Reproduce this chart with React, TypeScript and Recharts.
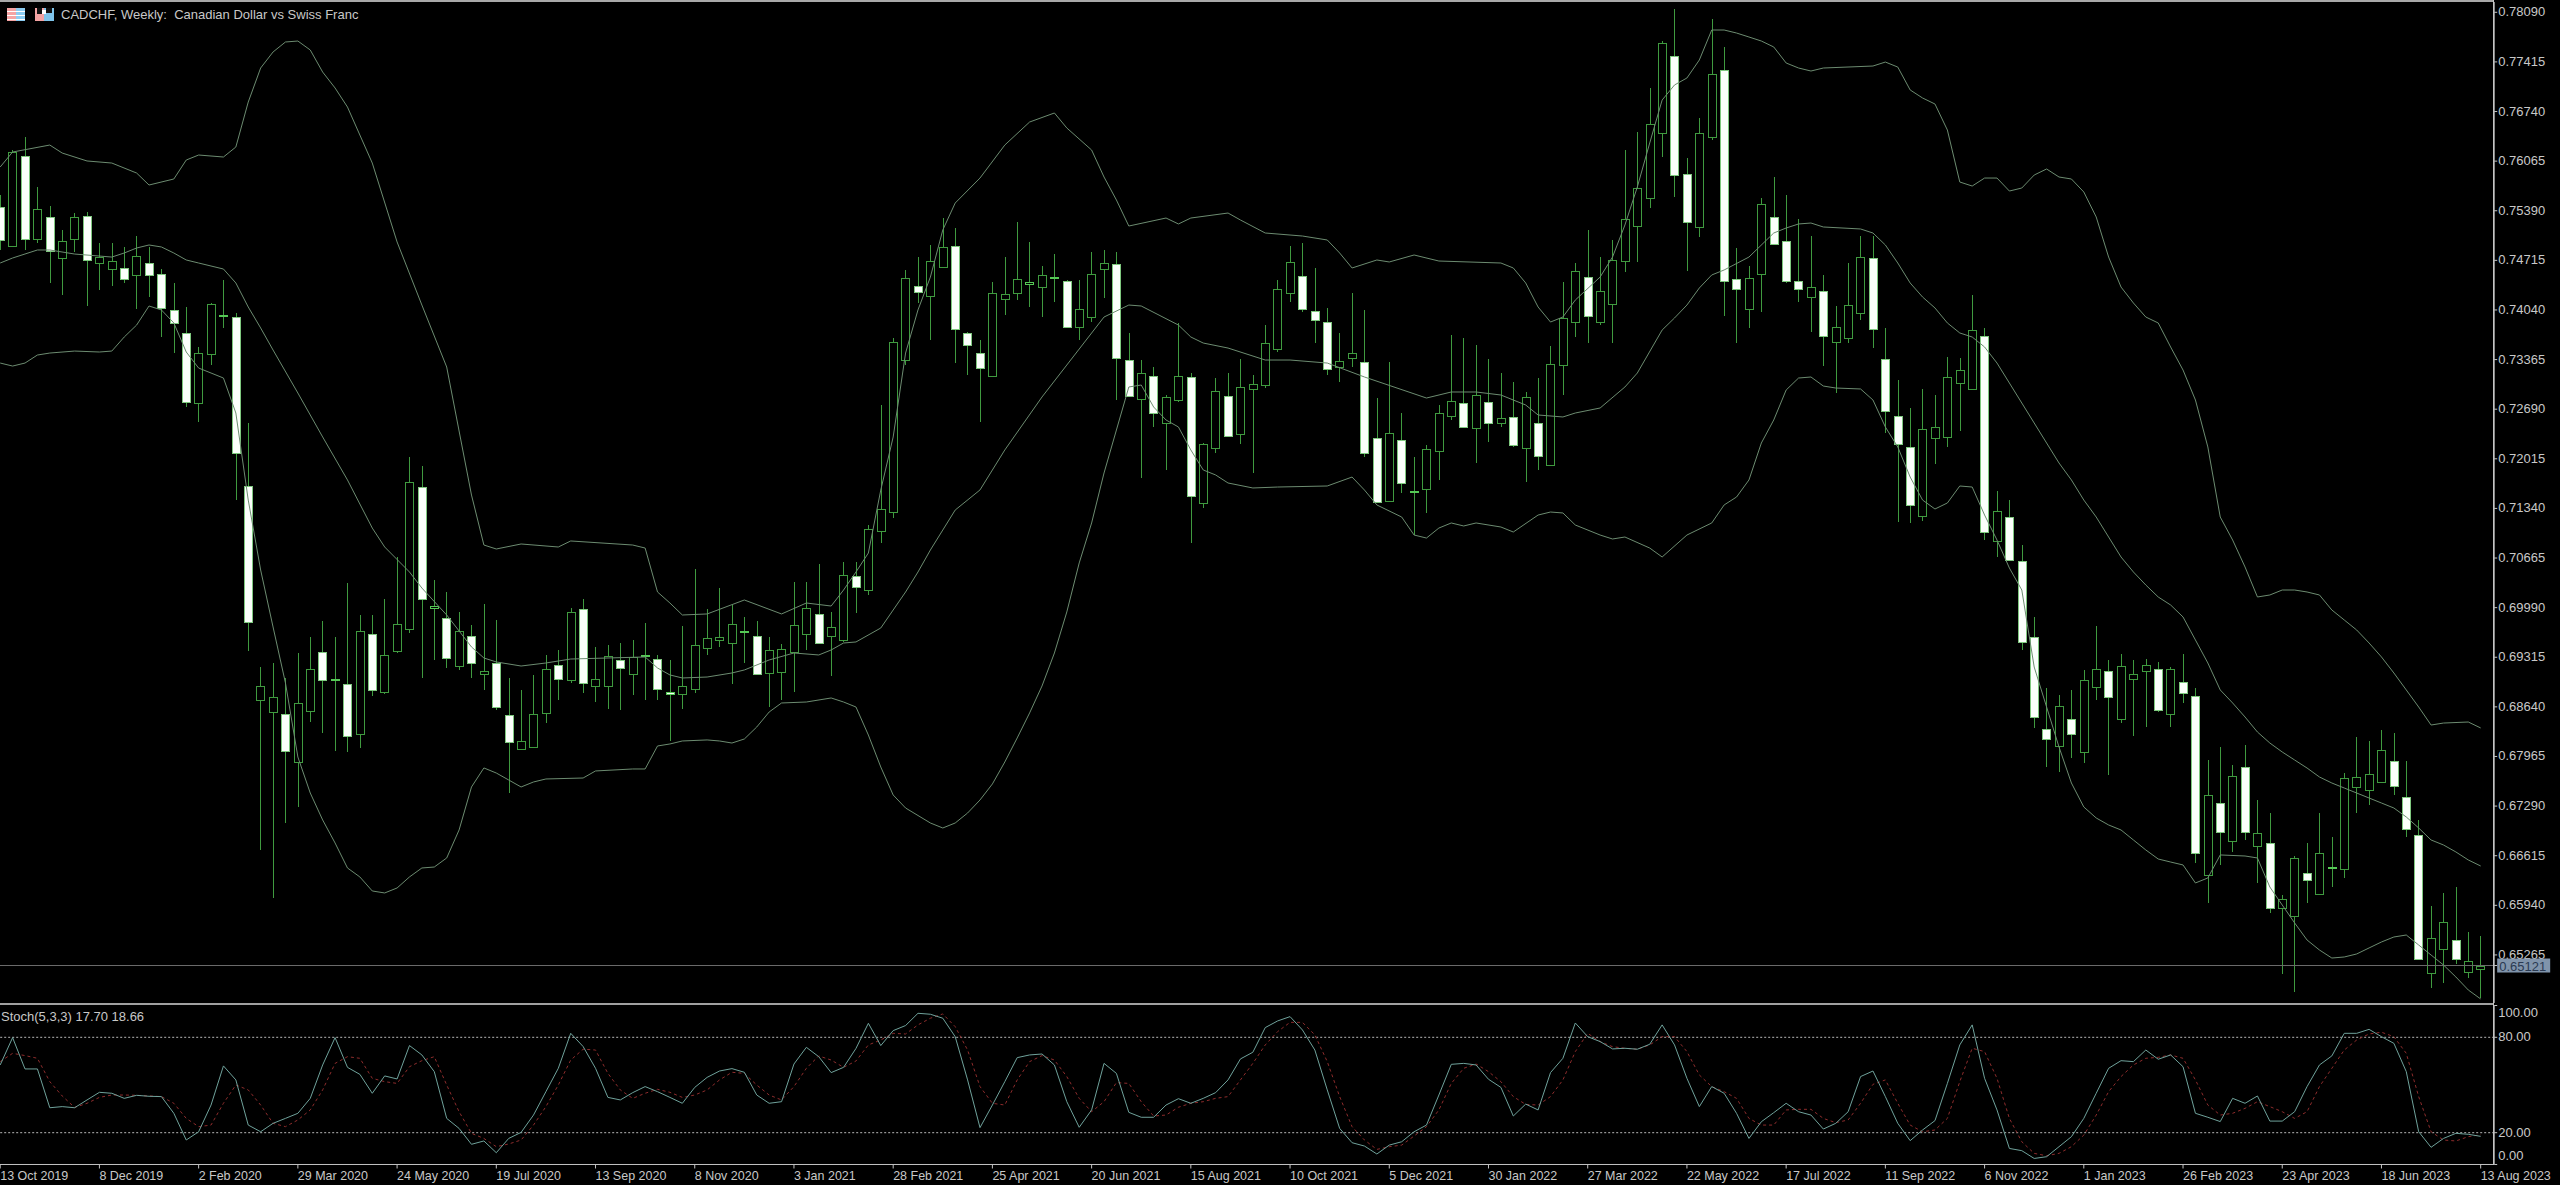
import React from 'react';
import { ComposedChart, Bar, Line, XAxis, YAxis, ReferenceLine } from 'recharts';

// prices are in points (1/100000)
const opens = [
  75441,74910,76135,75005,75305,74747,75005,75318,74679,74597,
  74611,74516,74679,74529,74040,73727,72774,73441,73958,73944,
  71645,68733,68570,68543,67890,68584,69387,69006,68951,68271,
  69632,68842,69400,69700,71631,69985,69849,69196,69604,69087,
  69237,68529,68067,68094,68557,69210,69006,69971,68924,68924,
  69278,69087,69332,69291,68842,68815,68883,69441,69550,69509,
  69659,69604,69101,69114,69387,69632,69904,69604,69550,70421,
  70230,71033,71291,73359,74366,74230,74624,74910,73727,73454,
  73142,74189,74271,74393,74352,74475,74434,73808,73944,74597,
  74665,73359,72829,73142,72502,72815,73128,71414,72162,72869,
  72352,72965,73019,73509,74271,74502,74026,73876,73264,73386,
  73332,72298,71441,72271,71563,71604,72121,72597,72774,72434,
  72788,72502,72584,72162,72502,71931,73291,73876,74488,73876,
  74121,74706,75182,75563,76448,77495,75890,75169,76393,77305,
  74461,74053,74529,75305,74978,74434,74216,74298,73604,73658,
  73999,74747,73373,72597,72176,71237,72298,72312,73046,72965,
  73686,70897,71223,70625,69591,68339,68108,68475,68026,68910,
  69128,68475,69019,69128,69155,68543,68978,68788,66353,67332,
  66815,67822,66747,66788,65904,65795,66380,66094,66448,66434,
  67550,67509,67618,67903,67414,66897,65019,65346,65468,65033,
  65074,
];
const highs = [
  75604,76216,76393,75713,75454,75128,75359,75373,74951,74951,
  74897,75046,74897,74597,74407,74080,73536,74135,74448,73999,
  72502,69182,69237,69033,69373,69591,69808,69591,70325,69890,
  69890,70108,70679,72040,71917,70366,70203,69931,69754,70040,
  69822,69033,68870,69074,69346,69414,69985,70108,69455,69482,
  69509,69550,69781,69346,69278,69740,70516,69971,70257,70026,
  69863,69808,69591,69495,70339,70339,70584,69931,70611,70611,
  71114,72747,73658,74584,74760,74924,75291,75155,73740,73631,
  74420,74760,75237,74965,74638,74801,74448,74448,74829,74856,
  74829,73727,73359,73264,72883,73863,73182,72230,73114,73182,
  73373,73155,73835,74448,74910,74951,74611,74067,73727,74271,
  74040,72842,73332,72638,72040,72203,72747,73699,73658,73563,
  73373,73182,73060,72924,73114,73550,74420,74679,75128,74760,
  74992,76216,76461,77060,77700,78135,76107,76652,77998,77618,
  74883,74638,75563,75849,75604,75277,75046,74516,74094,74679,
  75046,75046,73795,73087,72706,72965,72883,73400,73386,74243,
  73795,71577,71454,70842,69863,68897,68802,68870,69142,69740,
  69278,69359,69278,69291,69251,69182,69359,68897,67917,68094,
  67849,68121,67373,67196,66080,66611,66788,67196,66870,67740,
  68230,68176,68325,68285,67903,67101,65931,66108,66189,65577,
  65523,
];
const lows = [
  74856,74900,74856,74951,74407,74243,74829,74094,74312,74366,
  74407,74053,74216,73672,73454,72720,72516,73291,73795,71454,
  69400,66693,66040,67060,67278,68434,68285,68040,68026,68080,
  68788,68815,69373,69645,69033,69278,69169,69142,69033,68870,
  68597,67468,68053,68080,68420,68733,68965,68829,68706,68611,
  68597,68802,68733,68733,68176,68611,68829,69346,69455,68951,
  69237,69074,68638,68733,68842,69414,69495,69060,69523,69917,
  70162,70869,71210,73291,74135,73631,74611,73318,73155,72516,
  73128,73971,74175,74080,73944,74148,73795,73631,73876,74203,
  72815,72856,71754,72448,71863,72788,70869,71346,72094,72312,
  72216,71822,72978,73468,74148,74012,73590,73155,73060,73264,
  72040,71414,71427,71550,70978,71278,71727,72543,72434,71958,
  72244,72448,72176,71699,71863,71917,72883,73672,73590,73835,
  73590,74556,74693,75427,76121,75577,74570,75033,76352,73958,
  73590,73795,74012,74924,74407,74148,73740,73277,72910,73590,
  73903,73522,72366,71155,71142,71169,71944,72176,72393,72951,
  70910,70679,70625,69414,68353,67822,67754,67945,67876,68733,
  67713,68420,68244,68366,68570,68366,68693,66516,65971,66489,
  66665,66829,66244,65836,65006,64761,65971,66080,66189,66312,
  67196,67305,67604,67441,66870,65196,64815,64883,65142,64951,
  64679,
];
const closes = [
  74992,76189,75005,75414,74842,74978,75305,74720,74760,74706,
  74461,74774,74516,74067,73863,72788,73454,74121,73971,72094,
  69795,68924,68774,68040,68693,69155,69006,69019,68244,69672,
  68870,69346,69767,71699,70108,70012,69305,69672,69237,69128,
  68638,68162,68176,68543,69155,69019,69931,68965,69019,69332,
  69169,69319,69346,68883,68815,68924,69482,69577,69591,69767,
  69672,69087,69414,69427,69754,69985,69509,69727,70434,70271,
  71060,71332,73604,74475,74284,74706,74897,73781,73563,73250,
  74271,74257,74461,74420,74516,74488,73808,74053,74529,74679,
  73386,72869,73182,72638,72856,73142,71509,72216,72937,72325,
  72992,73033,73590,74325,74693,74053,73903,73237,73346,73454,
  72094,71427,72366,71686,71577,72148,72638,72801,72448,72883,
  72502,72570,72203,72856,72053,73305,73931,74570,73958,74298,
  74720,75277,75699,76570,77672,75876,75237,76448,77250,74434,
  74325,74475,75482,74937,74434,74325,74352,73686,73808,74107,
  74760,73781,72665,72216,71387,72420,72448,73128,73223,73767,
  71019,71305,70638,69523,68502,68203,68652,68271,69006,69155,
  68774,69196,69087,69210,68597,69155,68829,66652,67441,66938,
  67700,66938,66924,65904,66026,66584,66285,66652,66461,67672,
  67686,67727,68053,67563,66978,65210,65496,65713,65210,65183,
  65121,
];

// Bollinger bands, read at the bars where the curve can be seen clearly: [bar, price]
const upperBand = [
  [0,75985],[1,76189],[4,76284],[5,76175],[7,76067],[9,76039],[11,75903],[12,75740],[14,75822],[15,76080],[16,76148],[18,76121],[19,76257],
  [20,76869],[21,77332],[22,77550],[23,77686],[24,77699],[25,77577],[26,77277],[27,77060],[28,76801],[30,76039],[32,74965],[34,74107],[36,73264],[38,71522],
  [39,70842],[40,70788],[42,70856],[45,70815],[46,70897],[51,70842],[52,70801],[53,70203],[54,70053],[55,69890],[57,69904],[60,70094],[63,69904],[65,70053],[67,70012],
  [68,70230],[69,70475],[70,70733],[71,71590],[72,72312],[73,73454],[74,74040],[75,74488],[76,75128],[77,75495],[79,75835],[81,76284],[83,76597],[85,76720],[86,76516],
  [88,76216],[89,75849],[90,75536],[91,75182],[94,75291],[95,75210],[96,75291],[99,75359],[100,75264],[102,75087],[105,75046],[107,74992],[108,74815],[109,74611],
  [111,74720],[112,74693],[114,74788],[116,74706],[121,74679],[122,74611],[123,74407],[124,74080],[125,73876],[126,73944],[127,74175],[129,74488],[130,74760],
  [131,75196],[132,75713],[133,76312],[134,76896],[135,77101],[136,77196],[137,77441],[138,77849],[139,77849],[140,77808],[141,77754],[142,77699],[143,77618],
  [144,77400],[145,77332],[146,77291],[147,77332],[151,77359],[152,77413],[153,77345],[154,77033],[155,76924],[156,76842],[157,76488],[158,75781],[159,75726],
  [160,75835],[161,75835],[162,75658],[163,75699],[164,75876],[165,75958],[166,75849],[167,75822],[168,75645],[169,75305],[170,74760],[171,74352],[172,74135],
  [173,73944],[174,73863],[175,73536],[176,73223],[177,72815],[178,72176],[179,71223],[180,70910],[181,70543],[182,70135],[183,70162],[184,70230],[185,70230],
  [186,70203],[187,70162],[188,69958],[189,69822],[190,69686],[191,69509],[192,69319],[193,69101],[194,68870],[195,68638],[196,68393],[197,68420],[199,68434],[200,68353],
];
const middleBand = [
  [0,74679],[1,74747],[3,74856],[4,74856],[6,74801],[9,74760],[10,74815],[11,74883],[12,74924],[13,74897],[14,74815],[15,74720],[16,74679],[18,74597],[19,74407],
  [20,74080],[21,73795],[22,73495],[24,72910],[26,72312],[28,71727],[30,71073],[31,70815],[33,70475],[34,70257],[36,69890],[38,69455],[39,69305],[40,69251],[42,69196],
  [44,69237],[46,69291],[52,69319],[53,69169],[54,69074],[55,69033],[57,69046],[59,69101],[60,69142],[62,69278],[64,69373],[66,69346],[67,69414],[68,69509],[69,69523],
  [71,69713],[72,69958],[73,70203],[74,70475],[75,70774],[76,71046],[77,71318],[79,71591],[81,72135],[84,72856],[86,73291],[89,73944],[91,74107],[92,74094],[95,73835],
  [96,73672],[97,73590],[99,73522],[102,73359],[104,73359],[107,73318],[110,73128],[115,72842],[117,72924],[119,72924],[121,72883],[123,72747],[124,72611],[126,72584],
  [127,72638],[129,72706],[131,72992],[132,73182],[134,73767],[135,73931],[136,74107],[137,74339],[138,74516],[139,74584],[141,74760],[143,75087],[144,75155],[145,75210],
  [146,75223],[147,75169],[150,75142],[151,75087],[152,74924],[153,74679],[154,74407],[155,74216],[156,74067],[157,73863],[158,73727],[159,73672],[160,73536],[161,73318],
  [162,73046],[163,72774],[164,72502],[165,72230],[166,71958],[167,71727],[168,71454],[169,71223],[170,70951],[171,70679],[172,70475],[173,70298],[174,70135],[175,70026],
  [176,69863],[177,69550],[178,69237],[179,68870],[180,68693],[181,68502],[182,68298],[183,68148],[184,68026],[185,67917],[186,67808],[187,67686],[188,67604],[189,67536],
  [190,67468],[191,67400],[192,67332],[193,67264],[194,67142],[195,66992],[196,66829],[197,66761],[198,66666],[199,66557],[200,66475],
];
const lowerBand = [
  [0,73318],[1,73277],[2,73318],[3,73427],[4,73454],[6,73481],[8,73468],[9,73481],[10,73672],[11,73835],[12,74094],[13,74040],[14,73863],[15,73468],[16,73250],[17,73182],
  [18,73114],[19,72638],[20,71454],[21,70502],[22,69727],[23,68965],[24,67958],[25,67468],[26,67101],[27,66788],[28,66448],[29,66326],[30,66135],[31,66108],[32,66176],
  [33,66326],[34,66448],[35,66461],[36,66584],[37,66965],[38,67550],[39,67809],[40,67740],[41,67645],[42,67550],[43,67618],[44,67659],[47,67672],[48,67768],[51,67795],
  [52,67795],[53,68108],[54,68135],[55,68176],[57,68190],[58,68176],[59,68148],[60,68203],[61,68366],[62,68570],[63,68693],[65,68706],[67,68761],[68,68706],[69,68638],
  [70,68257],[71,67822],[72,67441],[73,67264],[75,67060],[76,66992],[77,67060],[78,67196],[79,67373],[80,67591],[81,67890],[82,68217],[83,68557],[84,68924],[85,69373],
  [86,69931],[87,70598],[88,71142],[89,71822],[90,72407],[91,72992],[92,73019],[93,72720],[94,72543],[95,72448],[96,72135],[97,71863],[98,71795],[99,71686],[101,71618],
  [103,71631],[107,71645],[109,71767],[110,71590],[111,71387],[113,71223],[114,70978],[115,70937],[116,71073],[117,71142],[118,71101],[119,71142],[121,71087],[122,71019],
  [124,71250],[125,71291],[126,71278],[127,71114],[129,70978],[130,70924],[131,70951],[133,70801],[134,70679],[136,70978],[138,71142],[139,71387],[140,71495],[141,71727],
  [142,72230],[143,72543],[144,72951],[145,73114],[146,73128],[147,73005],[148,72978],[150,72965],[151,72815],[152,72448],[153,72176],[154,71767],[155,71454],[156,71332],
  [157,71414],[158,71645],[159,71631],[160,71250],[161,70910],[162,70529],[163,70230],[164,69182],[165,68638],[166,68094],[167,67604],[168,67278],[169,67128],[170,67033],
  [171,66965],[172,66829],[173,66693],[174,66570],[175,66529],[176,66489],[177,66244],[178,66312],[179,66625],[181,66611],[182,66584],[183,66189],[184,65944],[185,65700],
  [186,65468],[187,65332],[188,65223],[189,65237],[190,65278],[191,65360],[192,65441],[193,65509],[194,65536],[195,65400],[196,65264],[197,65128],[198,64965],[199,64788],[200,64666],
];

const stochMain = [
  62.6,79.8,60.1,60.1,35.7,36.4,35.7,40.6,45.4,44.8,
  41.6,43.5,42.9,42.7,32.2,15.4,20.6,37.4,62,53.2,
  24.8,20.6,25.9,29,32.2,41.6,62.6,79.8,61.1,56.7,
  44.8,55.7,53.8,74.8,68.9,58.4,29,22.7,12.7,14.8,
  7.4,16.4,20.2,31.1,45.8,60.5,82.5,74.2,60.5,42.2,
  40.6,45.2,49,45.8,42.2,38.5,48.5,54.8,58.8,60.3,
  58,43.7,38.5,39.5,63.2,73.7,67.8,57.8,61.1,73,
  88.8,74.8,84.2,87.4,95.1,94.5,92,80.4,53.2,23.2,
  37.4,52.1,67.2,68.9,69.5,62.6,39.5,23.4,34.3,63.6,
  57.3,32.8,29.7,29.7,37.4,41.4,38.5,41.6,45.2,53.2,
  66.4,70.6,86.1,90.3,93,84.6,72,46.9,22.7,13.7,
  11.6,6.6,12.2,14.3,20.6,24.8,43.7,63,63.6,62.6,
  53.6,48.5,30.5,38,34.3,57.8,66.8,89,80.4,77.3,
  72.7,73.1,72.5,75.6,87.8,75.2,54.2,36.4,49,44.8,
  32.2,16.4,26.9,32.6,38.5,33.2,31.1,22.3,25.9,33.2,
  55.3,58.8,42.7,25.9,15,21.7,27.6,51,75.2,87.8,
  54.2,34.3,10.1,8.7,3.8,4.9,11.2,17.5,29,44.8,
  60.5,65.3,64.7,72,66.2,68.9,61.5,32.2,29.7,27,
  41.6,38.5,43.1,27.3,27.3,33.2,49,62.6,68.3,82.5,
  82.5,85,80.4,76.2,58.4,20.6,10.8,16.4,19.6,19,
  17.7,
];
const stochSignal = [
  64.7,69.9,68.5,66.8,52.1,43.1,35.9,38.5,42.2,43.7,
  43.7,43.5,43.1,42.7,38.5,29,23.8,24.8,38.5,50,
  46.9,37.4,25.9,23.8,28,34.3,46.9,63.6,67.8,66.8,
  54.2,52.1,51,61.5,65.3,67.8,50,33.2,19.6,16.4,
  11.2,12.9,15.4,24.8,36.4,50,65.7,72.5,72,57.3,
  46.9,41.6,44.8,47.3,45.4,42.2,43.7,46.9,53.2,58,
  57.3,50,43.7,40.6,49,60.5,68.3,65.7,61.1,65.1,
  75.2,78.3,82.5,82.1,87.8,92,94.7,86.7,72,49,
  38.5,37.4,53.2,64.7,68.5,65.7,55.3,41.6,33.2,39.5,
  51.5,51,39.5,30.5,31.1,36,38.5,39.5,41.6,42.7,
  53.2,63.6,75.2,83.6,89.4,89.4,81.5,64.7,42.7,23.8,
  15.4,9.5,11.2,12.2,17.9,23.8,34.3,51,60.5,63.2,
  58.4,52.1,42.7,37.8,37.4,42.7,53.2,71,82.5,77.3,
  74.1,73.1,72.5,75.2,80.4,80.4,71,56.3,49,45.8,
  41.6,29,24.8,24.8,34.3,34.7,34.7,29,26.3,28,
  38.5,50.4,53.2,38.5,24.8,20.6,21.7,29,52.1,73.1,
  71,54.2,29,14.3,7,5.5,7,11.2,18.5,31.1,
  45.8,55.3,62.6,66.8,67.4,68.9,66.8,53.2,37.4,31.1,
  32.2,35.3,39.5,36.4,33.2,29,33.2,49,60.5,72,
  78.3,82.1,83.2,80.4,69.9,42.7,20.6,15.4,14.8,17.5,
  18.7,
];

const dateLabels = [
  '13 Oct 2019','8 Dec 2019','2 Feb 2020','29 Mar 2020','24 May 2020','19 Jul 2020','13 Sep 2020','8 Nov 2020','3 Jan 2021',
  '28 Feb 2021','25 Apr 2021','20 Jun 2021','15 Aug 2021','10 Oct 2021','5 Dec 2021','30 Jan 2022','27 Mar 2022','22 May 2022',
  '17 Jul 2022','11 Sep 2022','6 Nov 2022','1 Jan 2023','26 Feb 2023','23 Apr 2023','18 Jun 2023','13 Aug 2023',
];
const dateTickBars = [0,8,16,24,32,40,48,56,64,72,80,88,96,104,112,120,128,136,144,152,160,168,176,184,192,200];

const bidPrice = 65121;
const priceTicks = [
  78090,77415,76740,76065,75390,74715,74040,73365,72690,72015,71340,70665,69990,
  69315,68640,67965,67290,66615,65940,65265,bidPrice,
];
const stochTicks = [100,80,20,0];

const FONT = '"Liberation Sans", Arial, sans-serif';
const AXIS_COLOR = '#c4c4c4';
const TEXT_COLOR = '#c8c8c8';
const CANDLE_GREEN = '#3f9a3f';
const BAND_COLOR = '#6c8c70';

const knotLookup = (knots: number[][]) => new Map(knots.map(([bar, price]) => [bar, price]));
const upperAt = knotLookup(upperBand);
const middleAt = knotLookup(middleBand);
const lowerAt = knotLookup(lowerBand);

const priceRows = opens.map((open, i) => ({
  bar: i,
  open,
  high: highs[i],
  low: lows[i],
  close: closes[i],
  range: [lows[i], highs[i]],
  upper: upperAt.get(i) ?? null,
  middle: middleAt.get(i) ?? null,
  lower: lowerAt.get(i) ?? null,
}));

const stochRows = stochMain.map((main, i) => ({ bar: i, main, signal: stochSignal[i] }));

const Candle = (props: any) => {
  const { x, y, width, height, payload } = props;
  const { open, high, low, close } = payload;
  const perPoint = height / (high - low);
  const cx = Math.round(x + width / 2) + 0.5;
  const top = y + (high - Math.max(open, close)) * perPoint;
  const bottom = y + (high - Math.min(open, close)) * perPoint;
  const bearish = close < open;
  const doji = Math.abs(open - close) < 30;
  return (
    <g shapeRendering="crispEdges">
      <line x1={cx} x2={cx} y1={y} y2={y + height} stroke={CANDLE_GREEN} />
      <rect
        x={cx - 4}
        y={Math.round(top) + 0.5}
        width={8}
        height={Math.max(Math.round(bottom - top), 1)}
        fill={bearish ? '#fbfffb' : '#000'}
        stroke={doji ? '#55c855' : bearish ? '#7fc87f' : CANDLE_GREEN}
      />
    </g>
  );
};

const PriceTick = (props: any) => {
  const { x, y, payload } = props;
  const label = (payload.value / 100000).toFixed(5);
  if (payload.value === bidPrice) {
    return (
      <g>
        <rect x={x - 1} y={y - 7} width={53} height={14} fill="#8094ab" />
        <text x={x + 1} y={y + 5} fontFamily={FONT} fontSize={13} fill="#2a3a52">{label}</text>
      </g>
    );
  }
  return <text x={x} y={y + 4} fontFamily={FONT} fontSize={13} fill={TEXT_COLOR}>{label}</text>;
};

const StochTick = (props: any) => {
  const { x, y, payload } = props;
  // the outer labels are pushed inside the panel
  const shift = payload.value === 100 ? 7 : payload.value === 0 ? -8 : 0;
  return (
    <text x={x} y={y + shift + 4} fontFamily={FONT} fontSize={13} fill={TEXT_COLOR}>
      {payload.value.toFixed(2)}
    </text>
  );
};

const DateTick = (props: any) => {
  const { x, y, payload } = props;
  return (
    <text x={x} y={y + 12} fontFamily={FONT} fontSize={12.5} fill={TEXT_COLOR}>
      {dateLabels[dateTickBars.indexOf(payload.value)]}
    </text>
  );
};

const ChartIcons = () => (
  <svg width={50} height={16} style={{ position: 'absolute', left: 6, top: 7 }} shapeRendering="crispEdges">
    <rect x={1} y={1} width={9} height={13} fill="#f4a3a3" />
    <rect x={10} y={1} width={9} height={13} fill="#8ccbf0" />
    <rect x={1} y={4} width={18} height={1} fill="#fff" />
    <rect x={1} y={8} width={18} height={1} fill="#fff" />
    <rect x={1} y={12} width={18} height={1} fill="#fff" />
    <rect x={29} y={1} width={9} height={13} fill="#f4a3a3" />
    <rect x={38} y={1} width={10} height={13} fill="#7fc4ea" />
    <rect x={31} y={1} width={5} height={6} fill="#111" />
    <rect x={40} y={1} width={6} height={5} fill="#111" />
    <rect x={36} y={3} width={4} height={4} fill="#fff" />
  </svg>
);

export default function App() {
  const chartWidth = 2566.2;
  const axisWidth = 66;
  return (
    <div style={{ position: 'absolute', left: 0, top: 0, width: 2560, height: 1185, background: '#000', overflow: 'hidden' }}>
      <div style={{ position: 'absolute', left: -6.2, top: 0 }}>
        <ComposedChart width={chartWidth} height={1004} data={priceRows} margin={{ top: 2, right: 0, bottom: 1, left: 0 }} barCategoryGap={0}>
          <XAxis dataKey="bar" type="category" scale="band" hide padding={{ left: 0, right: 7.3 }} />
          <YAxis
            orientation="right"
            width={axisWidth}
            domain={[64611, 78230]}
            allowDataOverflow
            ticks={priceTicks}
            interval={0}
            tick={PriceTick}
            tickSize={3}
            tickMargin={1}
            tickLine={{ stroke: AXIS_COLOR }}
            axisLine={{ stroke: AXIS_COLOR }}
          />
          <ReferenceLine y={bidPrice} stroke="#6a6a6a" />
          <Bar dataKey="range" shape={Candle} isAnimationActive={false} />
          <Line dataKey="upper" stroke={BAND_COLOR} strokeWidth={1} dot={false} connectNulls isAnimationActive={false} />
          <Line dataKey="middle" stroke={BAND_COLOR} strokeWidth={1} dot={false} connectNulls isAnimationActive={false} />
          <Line dataKey="lower" stroke={BAND_COLOR} strokeWidth={1} dot={false} connectNulls isAnimationActive={false} />
        </ComposedChart>
      </div>
      <div style={{ position: 'absolute', left: -6.2, top: 1005 }}>
        <ComposedChart width={chartWidth} height={180} data={stochRows} margin={{ top: 0.5, right: 0, bottom: 0, left: 0 }}>
          <XAxis
            dataKey="bar"
            type="category"
            scale="band"
            height={20.5}
            padding={{ left: 0, right: 7.3 }}
            ticks={dateTickBars}
            interval={0}
            tick={DateTick}
            tickSize={4}
            tickMargin={0}
            tickLine={{ stroke: AXIS_COLOR }}
            axisLine={{ stroke: AXIS_COLOR }}
          />
          <YAxis
            orientation="right"
            width={axisWidth}
            domain={[0, 100]}
            ticks={stochTicks}
            interval={0}
            tick={StochTick}
            tickSize={3}
            tickMargin={1}
            tickLine={{ stroke: AXIS_COLOR }}
            axisLine={{ stroke: AXIS_COLOR }}
          />
          <ReferenceLine y={80} stroke="#b8b8b8" strokeDasharray="2 2" />
          <ReferenceLine y={20} stroke="#b8b8b8" strokeDasharray="2 2" />
          <Line dataKey="signal" stroke="#8e2c2c" strokeWidth={1} strokeDasharray="3 3" dot={false} isAnimationActive={false} />
          <Line dataKey="main" stroke="#6fa39c" strokeWidth={1} dot={false} isAnimationActive={false} />
        </ComposedChart>
      </div>
      <div style={{ position: 'absolute', left: 0, top: 0, width: 2494, height: 2, background: '#a8a8a8' }} />
      <div style={{ position: 'absolute', left: 0, top: 1003, width: 2494, height: 2, background: '#a0a0a0' }} />
      <div style={{ position: 'absolute', left: 2493, top: 0, width: 1, height: 1165, background: AXIS_COLOR }} />
      <ChartIcons />
      <div style={{ position: 'absolute', left: 61, top: 7, fontFamily: FONT, fontSize: 13, color: TEXT_COLOR, whiteSpace: 'pre' }}>
        {'CADCHF, Weekly:  Canadian Dollar vs Swiss Franc'}
      </div>
      <div style={{ position: 'absolute', left: 1, top: 1009, fontFamily: FONT, fontSize: 13, color: TEXT_COLOR, whiteSpace: 'pre' }}>
        {'Stoch(5,3,3) 17.70 18.66'}
      </div>
    </div>
  );
}
